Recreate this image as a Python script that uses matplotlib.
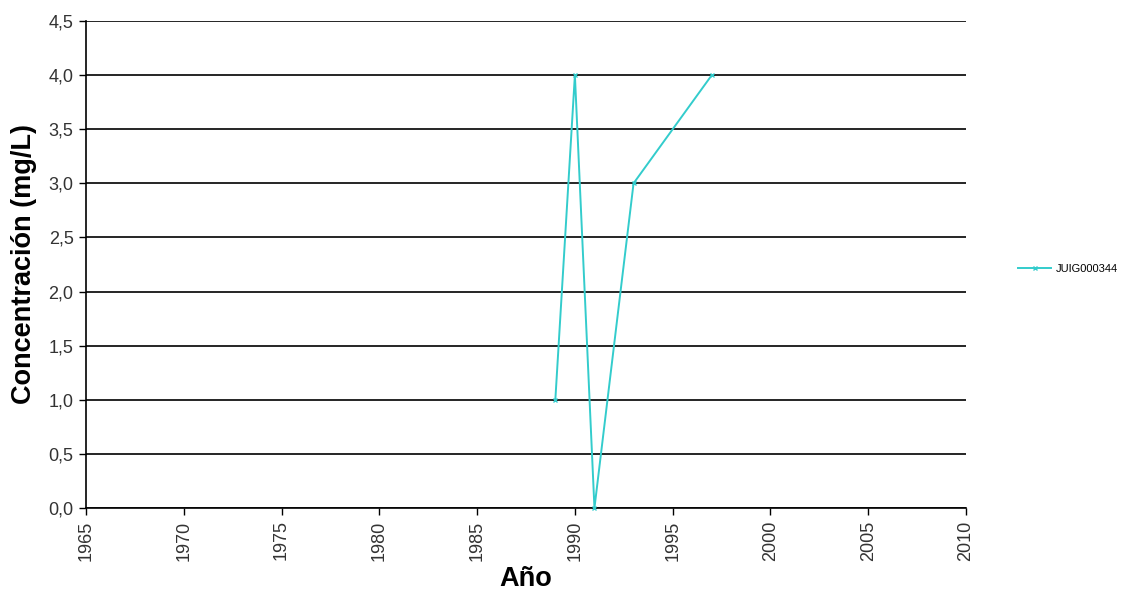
import matplotlib
matplotlib.use("Agg")
import matplotlib.pyplot as plt
from matplotlib.ticker import MultipleLocator, FuncFormatter

plt.rcParams['font.family'] = ['Liberation Sans', 'DejaVu Sans']

# Series data
years = [1989, 1990, 1991, 1993, 1997]
conc = [1.0, 4.0, 0.0, 3.0, 4.0]
series_name = "JUIG000344"
x_ticks = [1965, 1970, 1975, 1980, 1985, 1990, 1995, 2000, 2005, 2010]

fig = plt.figure(figsize=(11.27, 5.98), dpi=100)
ax = fig.add_axes([86 / 1127, 1 - 508 / 598, (966 - 86) / 1127, (508 - 21) / 598])

line, = ax.plot(years, conc, color='#33CCCC', lw=1.4, marker='x', ms=3.5, mew=1.0,
                label=series_name, clip_on=False, zorder=3)

ax.set_xlim(1965, 2010)
ax.set_ylim(0, 4.5)
ax.set_xticks(x_ticks)
ax.yaxis.set_major_locator(MultipleLocator(0.5))
ax.yaxis.set_major_formatter(FuncFormatter(lambda v, p: f"{v:.1f}".replace('.', ',')))
ax.tick_params(axis='x', labelrotation=90, labelsize=13, length=5, width=1, direction='out', pad=4,
               labelcolor='#333333')
ax.tick_params(axis='y', labelsize=13, length=5, width=1, direction='out', pad=4,
               labelcolor='#333333')

ax.grid(axis='y', color='black', lw=1.2)
ax.set_axisbelow(True)
for s in ['right', 'top']:
    ax.spines[s].set_visible(False)
for s in ['left', 'bottom']:
    ax.spines[s].set_linewidth(1.2)

ax.set_ylabel("Concentración (mg/L)", fontsize=19.5, fontweight='bold', labelpad=8)
ax.set_xlabel("Año", fontsize=19.5, fontweight='bold', labelpad=4)

fig.legend(handles=[line], loc='center left', bbox_to_anchor=(1008 / 1127, 1 - 269 / 598),
           frameon=False, fontsize=8, handlelength=3, handletextpad=0.4)

fig.savefig("out.png", dpi=100, facecolor='white')
